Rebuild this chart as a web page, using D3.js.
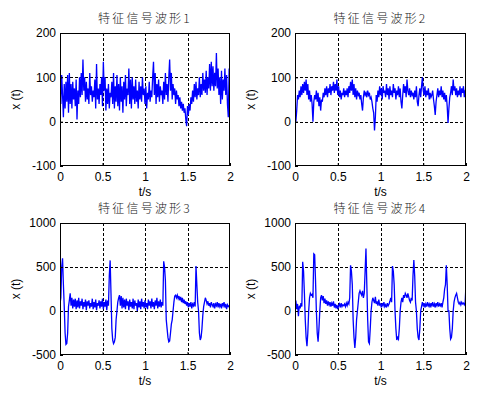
<!DOCTYPE html>
<html><head><meta charset="utf-8">
<script src="https://cdn.jsdelivr.net/npm/d3@7"></script>
<style>
body{margin:0;background:#fff;}
svg{display:block;}
</style></head>
<body>
<svg id="c" width="483" height="393"></svg>
<script>
const titles = ["特征信号波形1","特征信号波形2","特征信号波形3","特征信号波形4"];
const xTicks = [0, 0.5, 1, 1.5, 2];
const yTicksA = [-100, 0, 100, 200];
const yTicksB = [-500, 0, 500, 1000];
const dt = 0.01;

const s1 = [100,40,105,60,10,85,30,90,45,105,
20,110,40,85,30,90,50,75,35,95,
5,70,40,100,55,110,60,140,70,100,
45,90,50,75,40,110,60,80,45,70,
55,95,30,130,50,75,40,85,60,100,
35,135,70,100,25,75,40,85,30,65,
55,90,40,110,30,80,45,105,35,85,
25,100,45,80,20,90,50,105,35,75,
60,120,40,95,30,100,50,80,40,95,
45,70,30,90,50,80,45,100,60,75,
40,80,30,65,50,90,45,70,55,100,
135,60,110,40,85,55,95,45,80,60,
70,40,90,50,110,60,85,45,100,140,
70,110,50,85,60,75,40,70,50,60,
35,55,30,45,25,40,20,30,5,-10,
35,15,40,25,55,40,70,45,85,55,
90,50,75,60,100,55,85,60,110,70,
95,65,115,60,100,75,130,70,135,80,
125,70,110,80,155,75,120,60,100,40,
115,50,95,70,120,60,105,40,10,120,80];

const s2 = [15,0,25,60,50,70,55,80,60,85,
65,90,70,95,60,85,50,70,45,60,
40,0,45,60,50,70,45,65,35,55,
25,50,45,65,55,75,60,80,55,75,
65,85,60,80,70,90,65,85,70,95,
60,80,55,70,50,65,60,75,55,70,
60,75,55,80,65,90,70,95,60,85,
55,75,50,70,60,65,50,60,40,25,
55,70,60,65,55,70,60,65,50,55,
45,30,20,-20,10,60,45,70,55,80,
60,75,50,80,65,70,55,85,60,75,
50,80,60,70,55,85,65,75,50,70,
60,80,55,75,45,30,60,85,65,80,
55,95,70,60,75,55,70,60,65,50,
70,55,80,45,35,60,75,55,80,100,
70,60,80,55,70,60,75,50,65,55,
60,70,50,35,15,45,60,75,55,70,
60,80,55,70,50,65,45,60,35,-3,
30,55,65,80,60,95,70,80,60,75,
55,70,60,80,55,75,65,80,55,70,75];

const s3 = [80,150,500,600,300,50,-250,-380,-370,-250,
50,120,200,60,150,30,130,50,140,20,
120,40,150,30,110,60,140,20,100,50,
130,10,110,60,120,30,90,50,140,20,
100,40,130,10,90,60,120,30,110,50,
140,20,100,50,130,10,120,60,400,575,
200,-200,-330,-370,-350,-300,-100,0,100,150,
180,60,170,30,150,40,130,20,140,60,
110,10,130,50,100,30,140,20,120,60,
90,0,130,40,110,20,140,50,100,30,
120,40,90,20,130,60,110,30,140,50,
100,20,120,60,150,30,110,50,130,40,
100,60,565,500,350,-100,-200,-300,-350,-340,
-250,-150,-100,0,100,170,180,150,180,140,
170,120,160,100,150,90,130,80,110,60,
100,40,90,50,100,30,80,60,100,50,
510,300,100,0,-250,-330,-300,-200,-50,50,
100,150,120,80,110,60,90,40,100,70,
50,90,30,80,60,100,40,90,50,80,
30,90,60,100,40,80,20,70,50,60,40];

const s4 = [50,120,20,80,-60,60,30,90,50,560,
450,200,-100,-300,-400,-250,0,150,200,180,
190,150,650,640,350,0,-250,-350,-200,0,
150,180,120,170,90,140,80,120,60,110,
70,100,50,90,60,110,40,80,30,70,
20,60,80,40,90,50,70,60,80,50,
90,60,100,80,150,520,450,300,-100,-300,
-420,-300,-100,0,100,200,230,200,180,230,
150,200,450,710,300,-100,-350,-370,-200,0,
100,150,120,90,160,80,110,60,130,70,
80,40,90,60,100,50,70,40,90,60,
80,110,150,100,510,450,300,0,-200,-330,
-300,-320,-200,0,100,150,100,180,150,200,
180,150,200,160,120,100,150,120,400,580,
400,100,0,-200,-300,-330,-200,0,50,100,
60,90,40,80,50,100,60,80,40,90,
60,100,50,80,40,90,60,100,50,80,
60,90,40,100,150,250,300,520,300,0,
0,-200,-320,-300,-200,0,100,150,180,200,
150,100,80,100,70,100,80,90,70,100,300];

const series = [s1, s2, s3, s4];
const yDomains = [[-100,200],[-100,200],[-500,1000],[-500,1000]];
const yTickSets = [yTicksA, yTicksA, yTicksB, yTicksB];
const boxes = [
  {l:60, t:33, w:170, h:133},
  {l:295, t:33, w:171, h:133},
  {l:60, t:223, w:170, h:132},
  {l:295, t:223, w:171, h:132}
];

const svg = d3.select("#c");
const font = "Arial, 'Liberation Sans', sans-serif";

series.forEach((vals, i) => {
  const b = boxes[i];
  const x = d3.scaleLinear().domain([0, 2]).range([b.l, b.l + b.w]);
  const y = d3.scaleLinear().domain(yDomains[i]).range([b.t + b.h, b.t]);
  const g = svg.append("g");

  g.append("rect").attr("x", b.l).attr("y", b.t).attr("width", b.w).attr("height", b.h)
    .attr("fill", "#fff");

  // grid
  const yt = yTickSets[i];
  g.selectAll(".gx").data(xTicks.slice(1, -1)).enter().append("line")
    .attr("x1", d => Math.round(x(d)) + 0.5).attr("x2", d => Math.round(x(d)) + 0.5)
    .attr("y1", b.t).attr("y2", b.t + b.h)
    .attr("stroke", "#000").attr("stroke-width", 1).attr("stroke-dasharray", "3,2");
  g.selectAll(".gy").data(yt.slice(1, -1)).enter().append("line")
    .attr("y1", d => Math.round(y(d)) + 0.5).attr("y2", d => Math.round(y(d)) + 0.5)
    .attr("x1", b.l).attr("x2", b.l + b.w)
    .attr("stroke", "#000").attr("stroke-width", 1).attr("stroke-dasharray", "3,2");

  // clip
  const cid = "clip" + i;
  svg.append("clipPath").attr("id", cid).append("rect")
    .attr("x", b.l).attr("y", b.t).attr("width", b.w).attr("height", b.h);

  const line = d3.line().x((d, k) => x(k * dt)).y(d => y(d));
  g.append("path").datum(vals).attr("d", line)
    .attr("fill", "none").attr("stroke", "#0000ff").attr("stroke-width", 1.3)
    .attr("clip-path", `url(#${cid})`);

  // axes
  const xa = g.append("g").attr("transform", `translate(0,${b.t + b.h})`)
    .call(d3.axisBottom(x).tickValues(xTicks).tickSize(-3).tickPadding(6).tickFormat(d => String(d)));
  const ya = g.append("g").attr("transform", `translate(${b.l},0)`)
    .call(d3.axisLeft(y).tickValues(yt).tickSize(-3).tickPadding(4).tickFormat(d => String(d)));
  [xa, ya].forEach(a => {
    a.select(".domain").remove();
    a.selectAll("text").attr("font-family", font).attr("font-size", 12).attr("fill", "#000");
    a.selectAll("line").attr("stroke", "#000");
  });

  g.append("rect").attr("x", b.l + 0.5).attr("y", b.t + 0.5).attr("width", b.w - 1).attr("height", b.h - 1)
    .attr("fill", "none").attr("stroke", "#000").attr("stroke-width", 1);

  // title
  g.append("text").attr("x", b.l + b.w / 2).attr("y", b.t - 16)
    .attr("text-anchor", "middle").attr("dominant-baseline", "central")
    .attr("font-family", "'Noto Sans CJK SC', sans-serif").attr("font-size", 12)
    .attr("font-weight", 300).attr("fill", "#222")
    .attr("letter-spacing", 2.2).text(titles[i]);

  // x label
  g.append("text").attr("x", b.l + b.w / 2).attr("y", b.t + b.h + 26)
    .attr("text-anchor", "middle").attr("dominant-baseline", "central")
    .attr("font-family", font).attr("font-size", 12).text("t/s");

  // y label
  g.append("text")
    .attr("transform", `translate(${b.l - 44},${b.t + b.h / 2}) rotate(-90)`)
    .attr("text-anchor", "middle").attr("dominant-baseline", "central")
    .attr("font-family", font).attr("font-size", 12).text("x (t)");
});
</script>
</body></html>
